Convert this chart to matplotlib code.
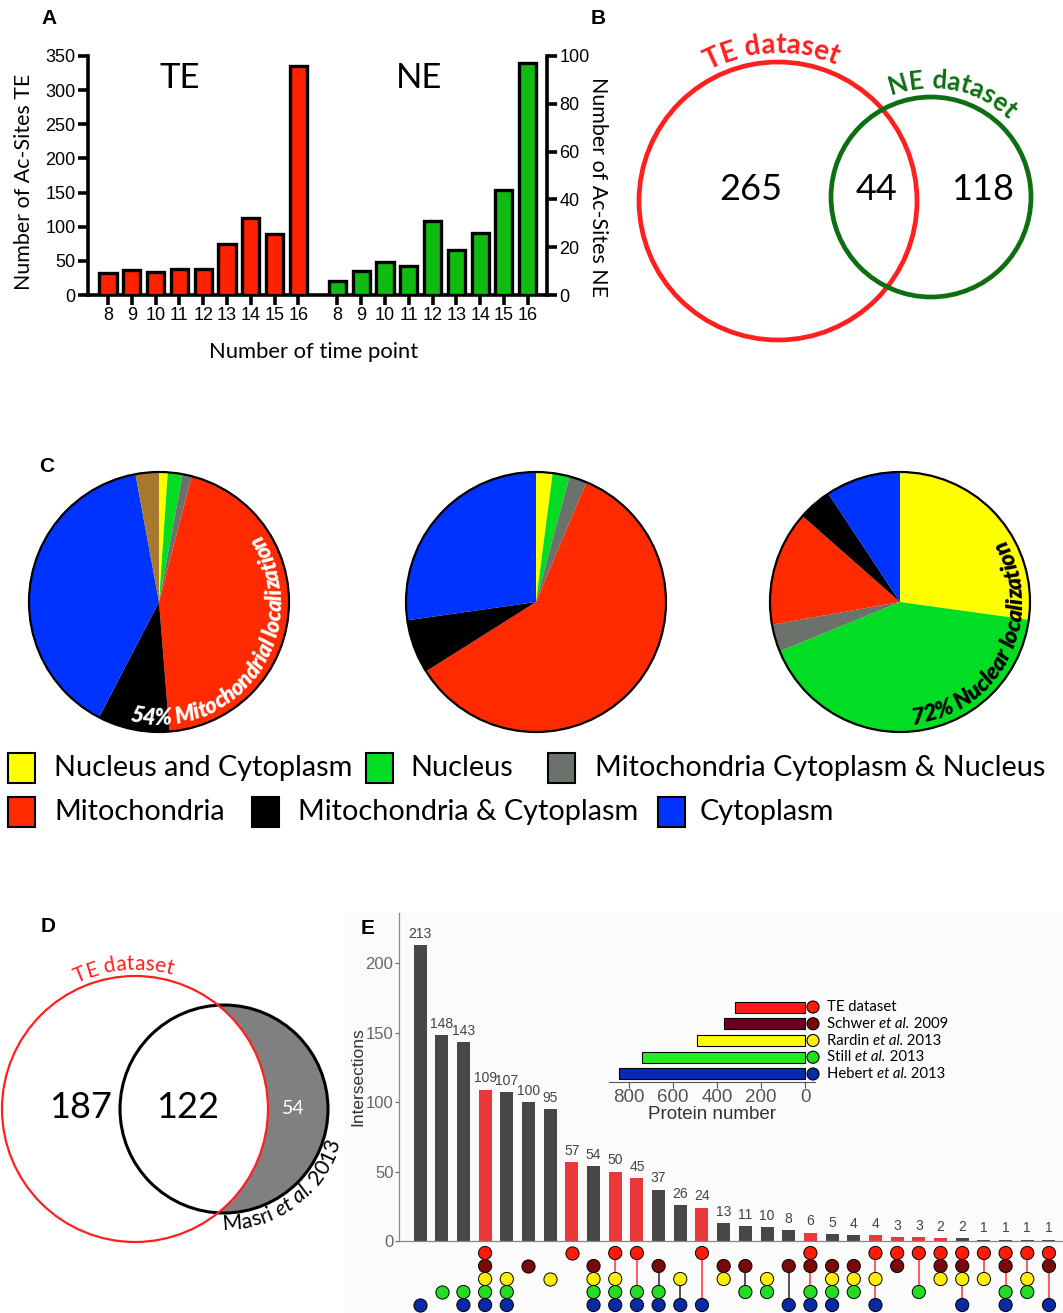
import numpy as np
import matplotlib
matplotlib.use('Agg')
import matplotlib.pyplot as plt
from matplotlib.patches import Circle, Rectangle
from matplotlib.font_manager import FontProperties

plt.rcParams['font.family'] = ['Liberation Sans', 'DejaVu Sans']
CAL = 'Lato'
ARI = 'Liberation Sans'

# ------------------------------------------------------------------ DATA
time_points = [8, 9, 10, 11, 12, 13, 14, 15, 16]
te_sites = [32, 37, 33, 38, 38, 75, 113, 90, 335]
ne_sites = [6, 10, 14, 12, 31, 19, 26, 44, 97]

venn_b_sets = ['TE dataset', 'NE dataset']
venn_b_counts = [265, 44, 118]

loc_categories = ['Nucleus and Cytoplasm', 'Nucleus', 'Mitochondria Cytoplasm & Nucleus',
                  'Mitochondria', 'Mitochondria & Cytoplasm', 'Cytoplasm']
loc_colors = ['#ffff00', '#00dd22', '#6b716b', '#ff2a00', '#000000', '#0033ff']
extra_color = '#a8782e'
pie1_values = [1.08, 1.83, 1.14, 44.7, 8.9, 39.5, 2.9]
pie2_values = [2.05, 2.1, 2.2, 59.7, 6.7, 27.25, 0]
pie3_values = [27.2, 41.6, 3.4, 14.3, 4.2, 9.3, 0]
pie_texts = ['54% Mitochondrial localization', '', '72% Nuclear localization']

venn_d_counts = [187, 122, 54]

upset_sets = [[('TE dataset', 'normal')],
              [('Schwer ', 'normal'), ('et al.', 'italic'), (' 2009', 'normal')],
              [('Rardin ', 'normal'), ('et al.', 'italic'), (' 2013', 'normal')],
              [('Still ', 'normal'), ('et al.', 'italic'), (' 2013', 'normal')],
              [('Hebert ', 'normal'), ('et al.', 'italic'), (' 2013', 'normal')]]
upset_codes = ['T', 'W', 'R', 'S', 'H']
upset_set_sizes = [318, 368, 491, 741, 845]
intersection_counts = [213, 148, 143, 109, 107, 100, 95, 57, 54, 50, 45, 37, 26, 24, 13,
                       11, 10, 8, 6, 5, 4, 4, 3, 3, 2, 2, 1, 1, 1, 1]
intersection_members = ['H', 'S', 'SH', 'TWRSH', 'RSH', 'W', 'R', 'T', 'WRSH', 'TRSH',
                        'TSH', 'WSH', 'RH', 'TH', 'WR', 'WS', 'RS', 'WH', 'TWSH', 'WRSH',
                        'WRS', 'TRH', 'TW', 'TS', 'TWR', 'TWRH', 'TR', 'TWSH', 'TRS', 'TWH']
intersection_highlight = [0, 0, 0, 1, 0, 0, 0, 1, 0, 1, 1, 0, 0, 1, 0,
                          0, 0, 0, 1, 0, 0, 1, 1, 1, 1, 0, 0, 0, 0, 0]

# ------------------------------------------------------------------ FIGURE
W, H = 1063, 1313
fig = plt.figure(figsize=(W / 100, H / 100), dpi=100)
renderer = fig.canvas.get_renderer()


def px_axes(x0, y0, x1, y1, **kw):
    return fig.add_axes([x0 / W, 1 - y1 / H, (x1 - x0) / W, (y1 - y0) / H], **kw)


bg = fig.add_axes([0, 0, 1, 1], zorder=-5)
bg.set_xlim(0, W); bg.set_ylim(0, H); bg.axis('off')
bg.add_patch(Rectangle((345, 0), W - 345, H - 913, color='#fbfbfb', lw=0))

ov = fig.add_axes([0, 0, 1, 1], zorder=20)
ov.set_xlim(0, W); ov.set_ylim(0, H); ov.axis('off')


def T(x, y, s, **kw):
    return ov.text(x, H - y, s, **kw)


def text_w(s, fp):
    a = renderer.get_text_width_height_descent('x' + s + 'x', fp, ismath=False)[0]
    b = renderer.get_text_width_height_descent('xx', fp, ismath=False)[0]
    return a - b


def arc_text(segments, cx, cy, r, mid_deg, span_deg, ccw, color, weight='normal',
             family=CAL, size=None):
    chars = [(ch, st) for s, st in segments for ch in s]

    def props(fs):
        return [FontProperties(family=family, size=fs, weight=weight, style=st) for _, st in chars]

    if size is None:
        w10 = sum(text_w(ch, fp) for (ch, _), fp in zip(chars, props(10)))
        size = 10 * np.radians(span_deg) * r / w10
    fps = props(size)
    ws = [text_w(ch, fp) for (ch, _), fp in zip(chars, fps)]
    d = 1 if ccw else -1
    th = np.radians(mid_deg) - d * sum(ws) / (2 * r)
    for (ch, _), w, fp in zip(chars, ws, fps):
        tc = th + d * w / (2 * r)
        rot = np.degrees(tc) + (90 if ccw else -90)
        ov.text(cx + r * np.cos(tc), cy + r * np.sin(tc), ch, fontproperties=fp, color=color,
                rotation=rot, rotation_mode='anchor', ha='center', va='baseline')
        th += d * w / r
    return size


def seq_text(x, y, segments, size, color='black', family=CAL):
    for s, st in segments:
        fp = FontProperties(family=family, size=size, style=st)
        T(x, y, s, fontproperties=fp, color=color, ha='left', va='center')
        x += text_w(s, fp)


def fit_size(s, target, family=CAL, weight='normal'):
    return 10 * target / text_w(s, FontProperties(family=family, size=10, weight=weight))


# panel letters
for lab, (x, y) in zip('ABCDE', [(49, 18), (598, 18), (47, 467), (48, 927), (368, 928)]):
    T(x, y, lab, fontweight='bold', fontsize=15, ha='center', va='center', family=ARI)

# ------------------------------------------------------------------ A
axA = px_axes(88, 56, 547, 295)
te_pos = np.arange(len(time_points))
ne_pos = te_pos + 9.64
axA.bar(te_pos, te_sites, width=0.72, color='#ff2200', edgecolor='black', linewidth=2.4, zorder=3)
axA.set_xlim(-0.84, 18.45)
axA.set_ylim(0, 350)
axA.set_yticks(range(0, 351, 50))
axA.set_xticks(np.concatenate([te_pos, ne_pos]))
axA.set_xticklabels([str(t) for t in time_points] * 2)
for s in ['top', 'right']:
    axA.spines[s].set_visible(False)
for s in ['left', 'bottom']:
    axA.spines[s].set_linewidth(2.6)
axA.tick_params(width=2.6, length=7, labelsize=13, pad=2)
axA2 = axA.twinx()
axA2.bar(ne_pos, ne_sites, width=0.72, color='#11bb11', edgecolor='black', linewidth=2.4, zorder=3)
axA2.set_ylim(0, 100)
axA2.set_yticks(range(0, 101, 20))
for s in ['top', 'left', 'bottom']:
    axA2.spines[s].set_visible(False)
axA2.spines['right'].set_linewidth(2.6)
axA2.tick_params(width=2.6, length=7, labelsize=13, pad=2)

T(24, 182, 'Number of Ac-Sites TE', rotation=90, ha='center', va='center', family=CAL,
  fontsize=fit_size('Number of Ac-Sites TE', 215))
T(598, 187, 'Number of Ac-Sites NE', rotation=270, ha='center', va='center', family=CAL,
  fontsize=fit_size('Number of Ac-Sites NE', 219))
T(314, 352, 'Number of time point', ha='center', va='center', family=CAL,
  fontsize=fit_size('Number of time point', 210))
T(180, 78, 'TE', ha='center', va='center', family=CAL, fontsize=25)
T(419, 78, 'NE', ha='center', va='center', family=CAL, fontsize=25)

# ------------------------------------------------------------------ B
ov.add_patch(Circle((778, H - 201), 139, fill=False, ec='#ff1f1f', lw=3.4))
ov.add_patch(Circle((931, H - 197), 100, fill=False, ec='#0d6e12', lw=3.4))
for v, x in zip(venn_b_counts, [751, 877, 982]):
    T(x, 190, str(v), ha='center', va='center', family=CAL, fontsize=26)
arc_text([(venn_b_sets[0], 'normal')], 778, H - 201, 148, 92.5, 51, False, '#ff1f1f', weight='bold')
arc_text([(venn_b_sets[1], 'normal')], 931, H - 197, 109, 78.5, 66, False, '#0d6e12', weight='bold')

# ------------------------------------------------------------------ C
R = 130
pie_vals = [pie1_values, pie2_values, pie3_values]
pie_centers = [(159, 602), (536, 602), (900, 602)]
for vals, (cx, cy) in zip(pie_vals, pie_centers):
    ax = px_axes(cx - R, cy - R, cx + R, cy + R)
    ax.pie(vals, colors=loc_colors + [extra_color], startangle=90, counterclock=False,
           radius=1, wedgeprops=dict(linewidth=0))
    ax.add_patch(Circle((0, 0), 1, fill=False, ec='black', lw=1.6, clip_on=False))
    ax.set_xlim(-1, 1); ax.set_ylim(-1, 1)

arc_text([(pie_texts[0], 'italic')], 159, H - 602, 123, -35, 138, True, 'white', weight='heavy')
arc_text([(pie_texts[2], 'italic')], 900, H - 602, 123, -26.7, 114.7, True, 'black', weight='heavy')

leg_fs = fit_size(loc_categories[2], 452)
leg_layout = [(768, 8, 54), (768, 366, 410), (768, 548, 595),
              (812, 8, 54), (812, 252, 298), (812, 658, 700)]
for lab, col, (ry, bx, tx) in zip(loc_categories, loc_colors, leg_layout):
    ov.add_patch(Rectangle((bx, H - ry - 15), 27, 30, fc=col, ec='black', lw=1.5))
    T(tx, ry, lab, ha='left', va='center', family=CAL, fontsize=leg_fs)

# ------------------------------------------------------------------ D
ov.add_patch(Circle((224, H - 1109), 104, fc='#808080', ec='none'))
ov.add_patch(Circle((135, H - 1109), 133, fc='white', ec='none'))
ov.add_patch(Circle((224, H - 1109), 104, fill=False, ec='black', lw=2.2))
ov.add_patch(Circle((135, H - 1109), 133, fill=False, ec='#ff1f1f', lw=1.6))
T(80, 1108, str(venn_d_counts[0]), ha='center', va='center', family=CAL, fontsize=26)
T(188, 1108, str(venn_d_counts[1]), ha='center', va='center', family=CAL, fontsize=26)
T(293, 1108, str(venn_d_counts[2]), ha='center', va='center', family=CAL, fontsize=14, color='white')
arc_text([('TE dataset', 'normal')], 135, H - 1109, 139, 94.75, 40, False, '#ff1f1f')
arc_text([('Masri ', 'normal'), ('et al.', 'italic'), (' 2013', 'normal')], 224, H - 1109, 121,
         -53.25, 74.5, True, 'black')

# ------------------------------------------------------------------ E
axE = px_axes(399, 913, 1062, 1241)
axE.patch.set_alpha(0)
xs = np.arange(len(intersection_counts))
bar_colors = ['#e8383a' if h else '#474747' for h in intersection_highlight]
axE.bar(xs, intersection_counts, width=0.6, color=bar_colors)
for x, v in zip(xs, intersection_counts):
    axE.annotate(str(v), (x, v), xytext=(0, 3), textcoords='offset points', ha='center',
                 va='bottom', fontsize=10, color='#444444')
axE.set_xlim(-0.97, 29.6)
axE.set_ylim(0, 236)
axE.set_xticks([])
axE.set_yticks([0, 50, 100, 150, 200])
axE.tick_params(axis='y', labelsize=12, colors='#666666', length=3, width=0.8, pad=1)
for s in ['top', 'right']:
    axE.spines[s].set_visible(False)
for s in ['left', 'bottom']:
    axE.spines[s].set_color('#888888')
    axE.spines[s].set_linewidth(0.9)
T(358, 1077, 'Intersections', rotation=90, ha='center', va='center', fontsize=12.5, color='#333333')

dot_colors = ['#ff1a0a', '#7a0a0a', '#ffee00', '#22dd22', '#0a2aa5']
axM = px_axes(399, 1245, 1062, 1313)
axM.set_xlim(-0.97, 29.6)
axM.set_ylim(4.615, -0.615)
axM.axis('off')
for x, mem in zip(xs, intersection_members):
    rows = [upset_codes.index(c) for c in mem]
    lc = '#ff3030' if 'T' in mem else '#222222'
    if len(rows) > 1:
        axM.plot([x, x], [min(rows), max(rows)], color=lc, lw=1.1, zorder=1)
    axM.scatter([x] * len(rows), rows, s=90, c=[dot_colors[r] for r in rows],
                edgecolors='black', linewidths=0.7, zorder=2, clip_on=False)

axI = px_axes(609, 998, 815, 1082)
axI.patch.set_alpha(0)
ypos = np.arange(len(upset_set_sizes))[::-1]
inset_colors = ['#ff1a1a', '#6e0021', '#ffff00', '#22ee22', '#0a28b4']
axI.barh(ypos, upset_set_sizes, height=0.66, color=inset_colors, edgecolor='black', linewidth=0.8)
axI.set_xlim(890, -45)
axI.set_ylim(-0.48, 4.54)
axI.set_xticks([800, 600, 400, 200, 0])
axI.set_yticks([])
for s in ['top', 'right', 'left']:
    axI.spines[s].set_visible(False)
axI.spines['bottom'].set_color('#555555')
axI.tick_params(axis='x', labelsize=13.5, colors='#555555', length=4, pad=1)
axI.set_xlabel('Protein number', fontsize=13.5, color='#333333', labelpad=0)
axI.scatter([-36] * 5, ypos, s=75, c=dot_colors, edgecolors='black', linewidths=0.8,
            clip_on=False, zorder=5)
lab_fs = fit_size('Schwer et al. 2009', 122)
for segs, ry in zip(upset_sets, [1007, 1024, 1041, 1057, 1074]):
    seq_text(827, ry, segs, lab_fs)

fig.savefig('out.png', dpi=100)
